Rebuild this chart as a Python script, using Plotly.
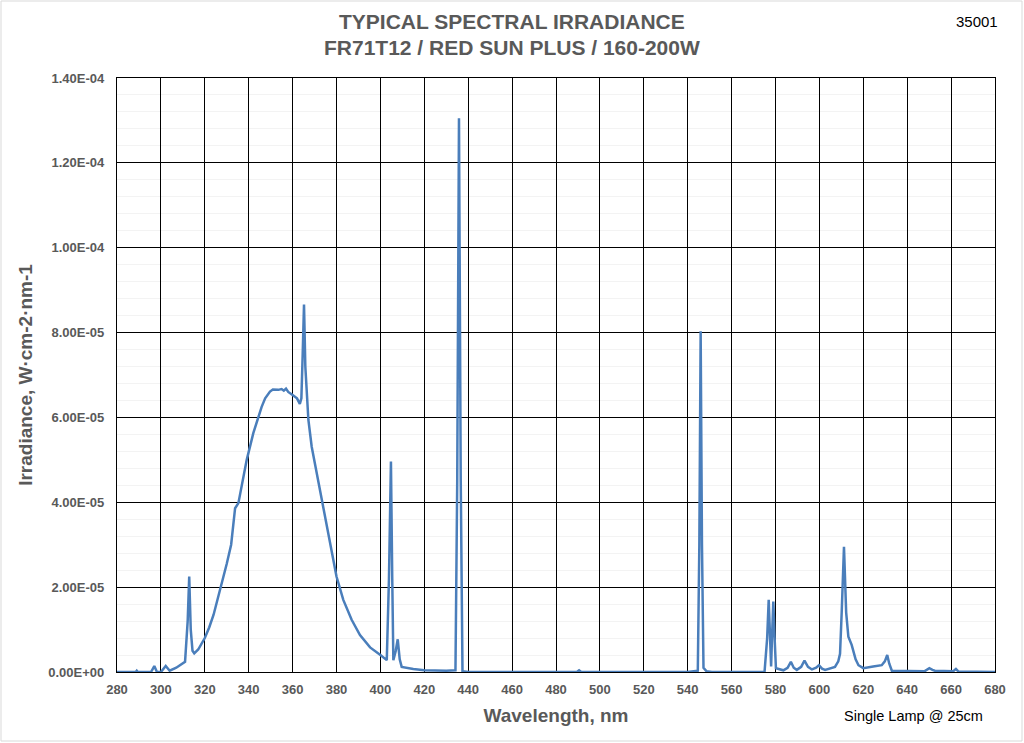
import plotly.graph_objects as go

# Wavelength (nm)
wavelength = [
    280, 286, 288.5, 289, 289.5, 295.5, 297, 298.2, 300, 302.2, 304, 307, 309, 311,
    312.2, 312.9, 313.6, 314.4, 315.2, 317, 320, 322, 324, 326, 328, 330, 332, 333.2,
    333.8, 335.3, 337, 339.1, 342.1, 344, 345.9, 347.5, 349.7, 351, 353.5, 355, 356,
    357, 358, 360, 362, 363.3, 364, 364.6, 365.2, 365.8, 366.4, 367.2, 368.7, 371,
    373.3, 376.3, 380, 383.1, 386.9, 390.7, 395.3, 400, 402.9, 403.9, 404.8, 405.4,
    405.9, 407, 407.9, 408.8, 409.7, 415, 420, 430, 434.2, 435, 435.8, 436.6, 437.4,
    440, 489.5, 490.5, 491.5, 540, 542, 544.6, 545.3, 545.9, 546.5, 547.2, 548.5, 551,
    575, 576.2, 576.9, 577.5, 578, 578.4, 579, 579.6, 580.2, 583.6, 585.5, 587, 588.3,
    589.7, 591.7, 593.2, 594.8, 596.6, 598.5, 599.8, 601.2, 602.6, 605, 607.1, 608.6,
    609.4, 610.2, 611.2, 612.2, 613.2, 614.7, 615.5, 616.5, 617.8, 620, 624.5, 628.4,
    629.8, 630.9, 631.8, 633, 648, 650.1, 651.5, 652.6, 661, 662.2, 663.4, 680,
]

# Irradiance in units of 1E-6 W/cm2/nm
irradiance_e6 = [
    0, 0, 0, 0.3, 0, 0, 1.4, 0, 0, 1.4, 0.3, 1.0, 1.6, 2.4,
    12, 22.5, 10, 5, 4.4, 5.3, 8.0, 10.5, 13.5, 17.5, 21, 25.5, 30, 35,
    38.6, 39.8, 44.5, 50, 56.3, 59.5, 62.5, 64.5, 66.1, 66.6, 66.5, 66.7, 66.3,
    66.8, 66.0, 65.3, 64.5, 63.2, 64.5, 75, 86.6, 72, 64.9, 59.4, 53.1, 46.8,
    40.1, 32.7, 22.5, 17, 12.3, 8.7, 5.8, 4.0, 2.8, 22, 49.6, 22,
    2.8, 5, 7.7, 3, 1.2, 0.7, 0.4, 0.3, 0.4, 45, 130.5, 45, 0.2,
    0, 0, 0.4, 0, 0, 0.2, 0.3, 30, 80.3, 30, 1, 0.2, 0,
    0, 8, 17, 8, 1.3, 8, 16.6, 8, 0.9, 0.4, 1, 2.4, 1,
    0.5, 1.2, 2.7, 1.2, 0.6, 1, 1.6, 0.8, 0.5, 0.8, 1.2, 2.5,
    4.3, 14.6, 29.5, 14, 8.3, 6.4, 5, 3, 1.6, 0.9, 1.3, 1.6,
    2.5, 4, 2.0, 0.3, 0.2, 0.9, 0.5, 0.3, 0.2, 0.7, 0.1, 0,
]
irradiance = [v * 1e-6 for v in irradiance_e6]

y_tick_values = [0, 2e-5, 4e-5, 6e-5, 8e-5, 1e-4, 1.2e-4, 1.4e-4]
y_tick_labels = ["0.00E+00", "2.00E-05", "4.00E-05", "6.00E-05", "8.00E-05",
                 "1.00E-04", "1.20E-04", "1.40E-04"]
x_tick_values = list(range(280, 681, 20))

GRAY = "#595959"
FONT = "Liberation Sans, Arial, sans-serif"

fig = go.Figure()
fig.add_trace(go.Scatter(
    x=wavelength, y=irradiance, mode="lines",
    line=dict(color="#4A7EBB", width=2.5),
    hoverinfo="x+y", showlegend=False,
))

W, H = 1024, 743
L, R, T, B = 117, 29, 78, 71
pw, ph = W - L - R, H - T - B

def px(x):
    return (x - L) / pw

def py(y):
    return (H - B - y) / ph

fig.update_layout(
    width=W, height=H,
    margin=dict(l=L, r=R, t=T, b=B, pad=0),
    paper_bgcolor="white", plot_bgcolor="white",
    font=dict(family=FONT, color=GRAY),
    xaxis=dict(
        range=[280, 680], tickvals=x_tick_values,
        showgrid=True, gridcolor="black", gridwidth=1.2,
        showline=True, linecolor="black", linewidth=1.2, mirror=True,
        ticks="", zeroline=False,
        tickfont=dict(size=13, color=GRAY, family=FONT, weight="bold"),
        ticklabelstandoff=5,
        title=dict(text="<b>Wavelength, nm</b>", font=dict(size=19, color=GRAY), standoff=12),
    ),
    yaxis=dict(
        range=[0, 1.4e-4], tickvals=y_tick_values, ticktext=y_tick_labels,
        showgrid=True, gridcolor="black", gridwidth=1.2,
        showline=True, linecolor="black", linewidth=1.2, mirror=True,
        ticks="", zeroline=False,
        tickfont=dict(size=13, color=GRAY, family=FONT, weight="bold"),
        ticklabelstandoff=9,
        minor=dict(dtick=4e-6, showgrid=True, gridcolor="#f3f3f3", gridwidth=1, ticks=""),
        title=dict(text="<b>Irradiance, W·cm-2·nm-1</b>", font=dict(size=19, color=GRAY), standoff=10),
    ),
)

annotations = [
    dict(text="<b>TYPICAL SPECTRAL IRRADIANCE</b>", x=px(512), y=py(22),
         font=dict(size=21, color=GRAY, family=FONT)),
    dict(text="<b>FR71T12 / RED SUN PLUS / 160-200W</b>", x=px(512), y=py(47),
         font=dict(size=21, color=GRAY, family=FONT)),
    dict(text="35001", x=px(977), y=py(22), font=dict(size=15, color="black", family=FONT)),
    dict(text="Single Lamp @ 25cm", x=px(913), y=py(716),
         font=dict(size=14.5, color="black", family=FONT)),
]
for a in annotations:
    a.update(xref="paper", yref="paper", xanchor="center", yanchor="middle", showarrow=False)
fig.update_layout(annotations=annotations)

fig.add_shape(type="rect", xref="paper", yref="paper",
              x0=px(1), x1=px(1022), y0=py(741), y1=py(1),
              line=dict(color="#d9d9d9", width=1), fillcolor="rgba(0,0,0,0)", layer="below")

fig.write_html("out.html")
